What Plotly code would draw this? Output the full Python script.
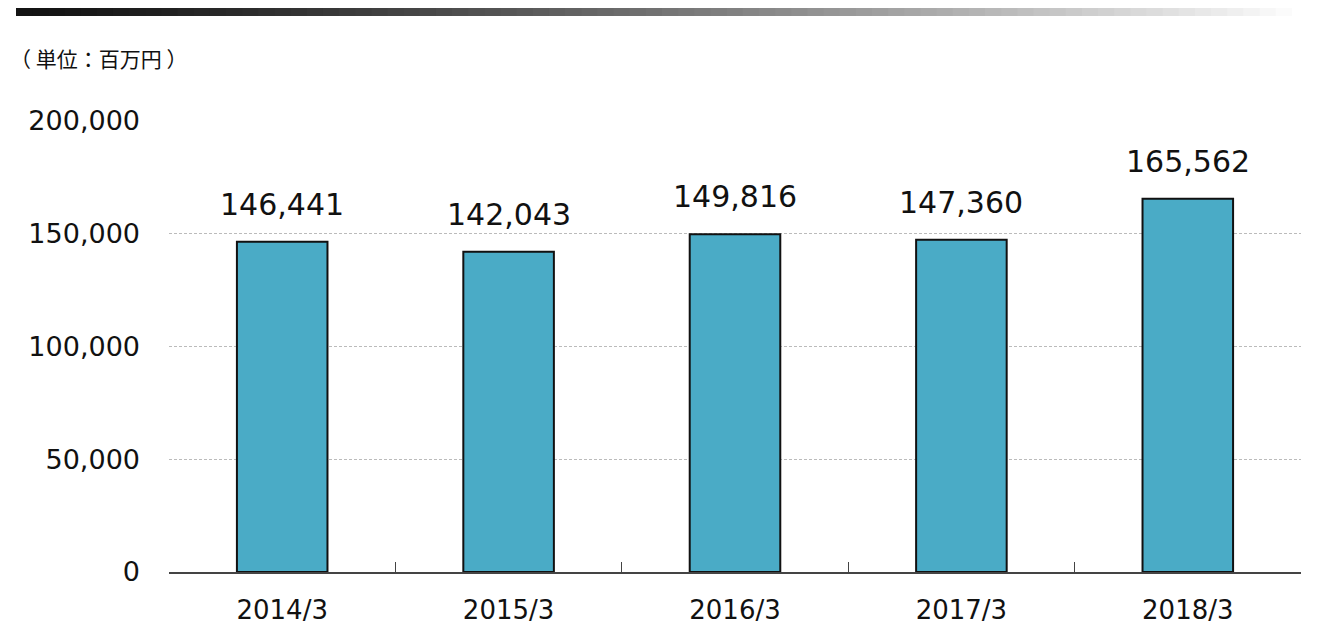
import plotly.graph_objects as go

years = ["2014/3", "2015/3", "2016/3", "2017/3", "2018/3"]
sales = [146441, 142043, 149816, 147360, 165562]
y_ticks = [0, 50000, 100000, 150000, 200000]

fig = go.Figure(go.Bar(
    x=years, y=sales,
    marker=dict(color="#4aabc6", line=dict(color="#111111", width=2)),
))

# value labels above bars
for yr, v in zip(years, sales):
    fig.add_annotation(x=yr, y=v, text=f"{v:,}", showarrow=False,
                       yanchor="bottom", yshift=18,
                       font=dict(size=30, color="#111", family="DejaVu Sans"))

# gradient header bar (paper coords are relative to plot area)
W = 1132
n = 80
x0, x1 = (8 - 161) / W, (1300 - 161) / W
for i in range(n):
    g = int(20 + 235 * (i / (n - 1)) ** 1.3)
    fig.add_shape(type="rect", xref="paper", yref="paper", layer="above",
                  x0=x0 + (x1 - x0) * i / n, x1=x0 + (x1 - x0) * (i + 1) / n + 0.001,
                  y0=1 + 105 / 451, y1=1 + 113 / 451,
                  fillcolor=f"rgb({g},{g},{g})", line=dict(width=0))

fig.add_annotation(text="（ 単位：百万円 ）", xref="paper", yref="paper",
                   x=-161 / W, y=1 + 63 / 451, xanchor="left", yanchor="middle",
                   showarrow=False, font=dict(size=21, color="#111", family="Noto Sans CJK JP"))

fig.update_layout(
    width=1321, height=631, margin=dict(l=161, r=28, t=113, b=67),
    plot_bgcolor="white", paper_bgcolor="white", bargap=0.6, showlegend=False,
    font=dict(family="DejaVu Sans", color="#111"),
)
fig.update_yaxes(range=[0, 200000], tickvals=y_ticks, tickformat=",",
                 tickfont=dict(size=27), showgrid=True, gridcolor="#bbbbbb",
                 griddash="3px,2px", gridwidth=1, zeroline=False, showline=False,
                 ticks="", ticklabelstandoff=28)
fig.update_xaxes(showline=True, linecolor="#444", linewidth=1.5, ticks="inside",
                 tickson="boundaries", ticklen=10, tickcolor="#444",
                 tickfont=dict(size=26), showgrid=False, ticklabelstandoff=14)

fig.write_html("out.html")
